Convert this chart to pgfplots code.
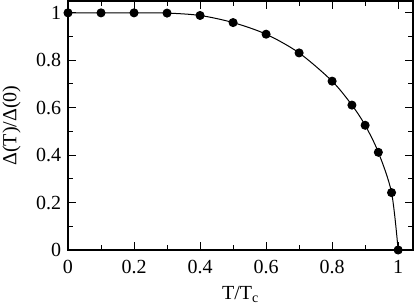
\documentclass[border=0pt]{standalone}
\usepackage{fontspec}
\setmainfont{Liberation Serif}
\usepackage{pgfplots}
\pgfplotsset{compat=1.18}
\begin{document}
\fontsize{20}{24}\selectfont
\begin{tikzpicture}
\begin{axis}[
  name=ax,
  scale only axis,
  width=345pt, height=249pt,
  xmin=0, xmax=1.045, ymin=0, ymax=1.05,
  xtick={0,0.2,0.4,0.6,0.8,1},
  ytick={0,0.2,0.4,0.6,0.8,1},
  minor x tick num=1, minor y tick num=1,
  tick align=inside,
  major tick length=8pt, minor tick length=5pt,
  tick style={black, line width=1pt},
  axis line style={line width=1.6pt},
  /pgf/number format/assume math mode=true,
  ticklabel style={font=\fontsize{20}{24}\selectfont},
  xticklabel style={yshift=-3pt},
  label style={font=\fontsize{20}{24}\selectfont},
  xlabel={T/T\textsubscript{c}},
  ylabel={Δ(T)/Δ(0)},
  xlabel style={yshift=1pt},
  ylabel style={yshift=2pt},
  clip=false,
]
\addplot[black, line width=1pt, smooth, tension=0.5, mark=*, mark size=4pt, mark options={solid, fill=black}]
coordinates {
(0,1.0) (0.1,1.0) (0.2,1.0) (0.3,0.999) (0.4,0.989) (0.5,0.959) (0.6,0.910) (0.7,0.831) (0.8,0.712) (0.86,0.611) (0.9,0.526) (0.94,0.412) (0.98,0.242) (1.0,0.0)
};
\end{axis}
\pgfresetboundingbox
\useasboundingbox ([xshift=-68pt,yshift=-55pt]ax.south west) rectangle ([xshift=2pt,yshift=1pt]ax.north east);
\end{tikzpicture}
\end{document}
